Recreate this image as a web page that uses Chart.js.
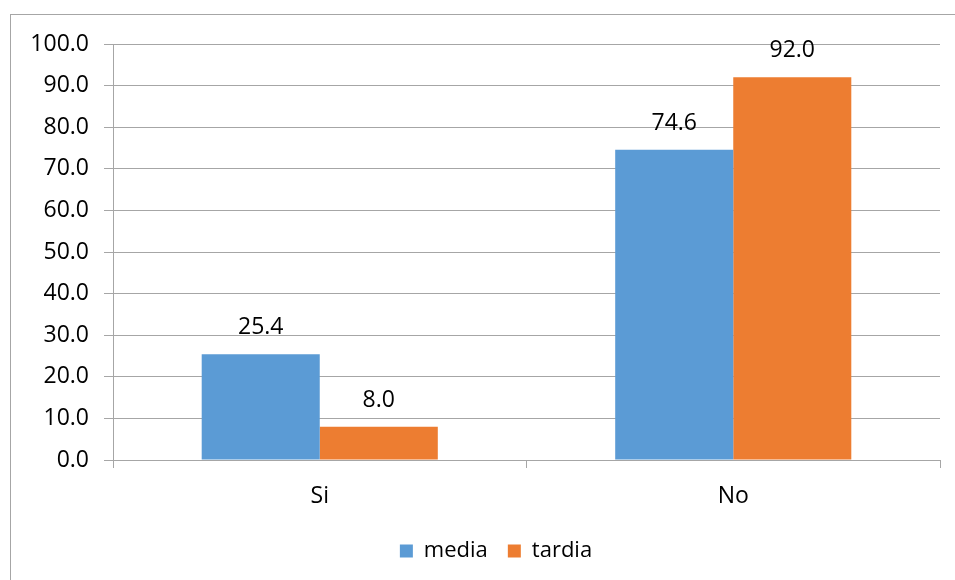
<!DOCTYPE html>
<html>
<head>
<meta charset="utf-8">
<script src="https://cdn.jsdelivr.net/npm/chart.js@4/dist/chart.umd.min.js"></script>
<style>
  html, body { margin: 0; padding: 0; background: #fff; overflow: hidden; }
  #wrap { position: relative; width: 955px; height: 580px; }
  #frame { position: absolute; left: 10px; top: 14px; width: 1000px; height: 1000px; border: 1px solid #a6a6a6; box-sizing: border-box; }
  #chart { position: absolute; left: 0; top: 0; }
</style>
</head>
<body>
<div id="wrap">
  <div id="frame"></div>
  <canvas id="chart" width="955" height="580"></canvas>
</div>
<script>
const categories = ['Si', 'No']
const mediaValues = [25.4, 74.6]
const tardiaValues = [8.0, 92.0]
const yTicks = [0, 10, 20, 30, 40, 50, 60, 70, 80, 90, 100]

const FONT = '"Open Sans", "Noto Sans", sans-serif'

// etiquetas de valor encima de cada barra
const valueLabels = {
  id: 'valueLabels',
  afterDatasetsDraw(chart) {
    const ctx = chart.ctx
    ctx.save()
    ctx.font = `23px ${FONT}`
    ctx.fillStyle = '#000'
    ctx.textAlign = 'center'
    ctx.textBaseline = 'alphabetic'
    chart.data.datasets.forEach((ds, i) => {
      chart.getDatasetMeta(i).data.forEach((bar, j) => {
        ctx.fillText(ds.data[j].toFixed(1), bar.x, bar.y - 20)
      })
    })
    ctx.restore()
  }
}

// la leyenda va centrada en el marco, no en el canvas
const shiftLegend = {
  id: 'shiftLegend',
  afterLayout(chart) {
    if (!chart.legend) return
    chart.legend.left += 26
    chart.legend.right += 26
  }
}

new Chart(document.getElementById('chart').getContext('2d'), {
  type: 'bar',
  data: {
    labels: categories,
    datasets: [
      { label: 'media', data: mediaValues, backgroundColor: '#5B9BD5' },
      { label: 'tardia', data: tardiaValues, backgroundColor: '#ED7D31' }
    ]
  },
  options: {
    responsive: false,
    animation: false,
    layout: { padding: { left: 0, right: 15, top: 44, bottom: 8 } },
    datasets: { bar: { categoryPercentage: 0.571, barPercentage: 1 } },
    scales: {
      x: {
        grid: { drawOnChartArea: false, drawTicks: true, tickLength: 8, color: '#a6a6a6', offset: true },
        border: { color: '#a6a6a6' },
        ticks: { color: '#000', font: { family: FONT, size: 23 }, padding: 15 },
        afterFit: (scale) => { scale.height = 60 }
      },
      y: {
        min: 0,
        max: 100,
        afterBuildTicks: (scale) => { scale.ticks = yTicks.map(v => ({ value: v })) },
        grid: { color: '#a6a6a6', tickLength: 9 },
        border: { color: '#a6a6a6' },
        ticks: {
          color: '#000',
          font: { family: FONT, size: 23 },
          padding: 15,
          callback: (value) => Number(value).toFixed(1)
        },
        afterFit: (scale) => { scale.width = 113 }
      }
    },
    plugins: {
      legend: {
        position: 'bottom',
        labels: {
          boxWidth: 13,
          boxHeight: 13,
          padding: 20,
          color: '#000',
          font: { family: FONT, size: 22 }
        }
      },
      tooltip: { enabled: false }
    }
  },
  plugins: [valueLabels, shiftLegend]
})
</script>
</body>
</html>
